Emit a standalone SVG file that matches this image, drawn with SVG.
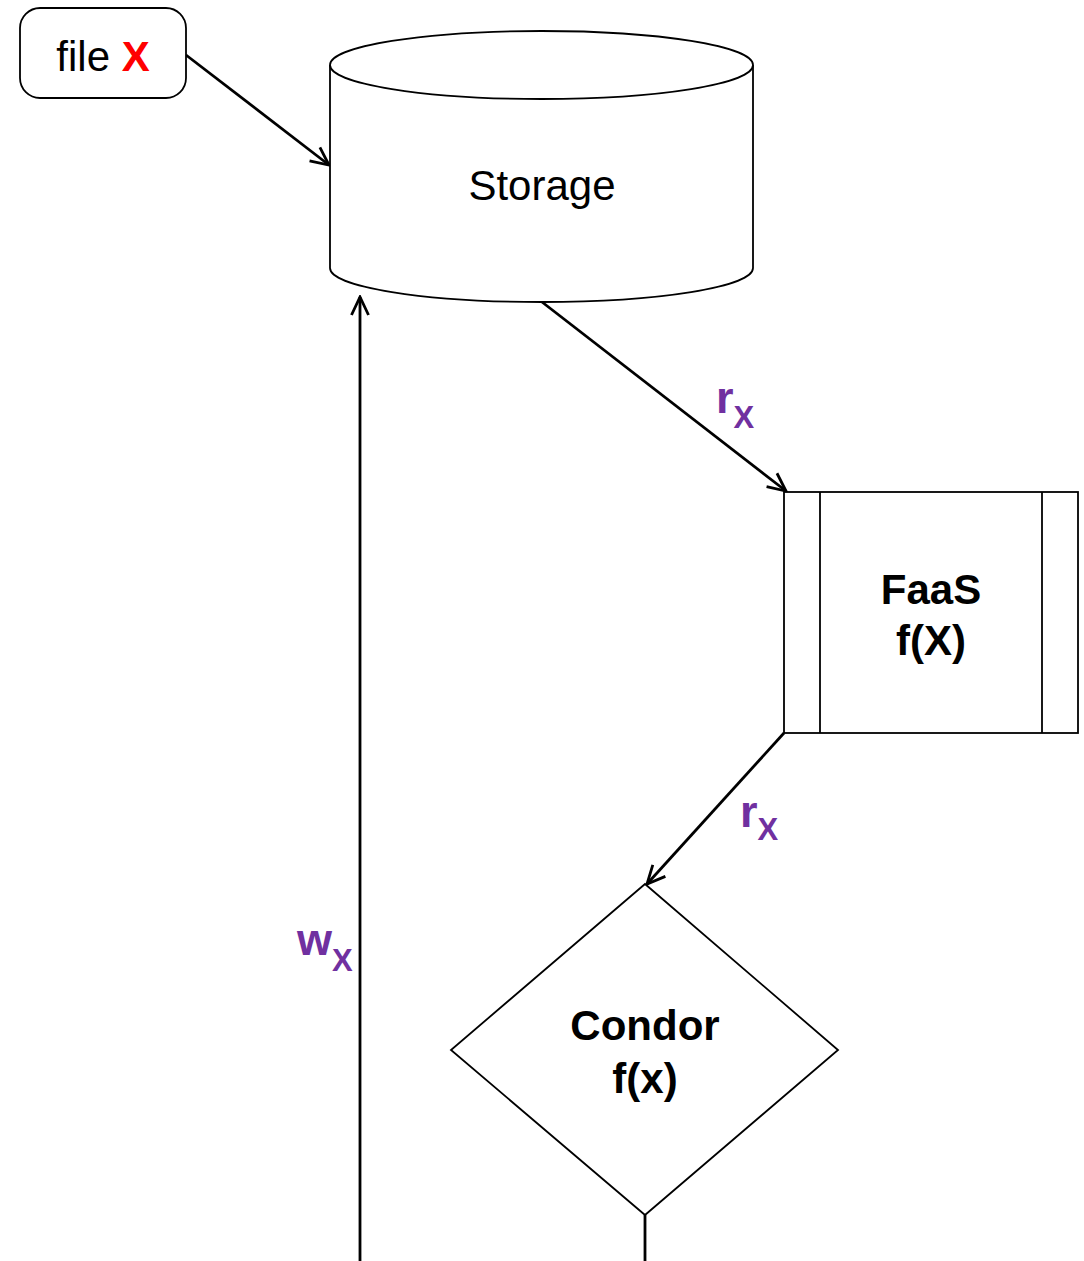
<svg xmlns="http://www.w3.org/2000/svg" width="1084" height="1261" viewBox="0 0 1084 1261">
<style>
.node{fill:#fff;stroke:#000;stroke-width:1.8}
.conn{fill:none;stroke:#000;stroke-width:2.8}
.t{font-family:"Liberation Sans",Arial,sans-serif;font-size:42px;fill:#000;text-anchor:middle}
.b{font-weight:bold}
.lbl{font-family:"Liberation Sans",Arial,sans-serif;font-weight:bold;fill:#7030A0;font-size:45px}
.sub{font-size:31px}
</style>
<defs>
<marker id="arr" viewBox="0 0 24 24" refX="22" refY="12" markerWidth="24" markerHeight="24" markerUnits="userSpaceOnUse" orient="auto">
<path d="M4,3.5 L22,12 L4,20.5" fill="none" stroke="#000" stroke-width="2.8"/>
</marker>
</defs>
<rect width="1084" height="1261" fill="#fff"/>
<g id="connectors">
<line class="conn" x1="186" y1="55" x2="329" y2="165" marker-end="url(#arr)"/>
<line class="conn" x1="542" y1="302" x2="786" y2="491" marker-end="url(#arr)"/>
<line class="conn" x1="784" y1="733" x2="647" y2="884" marker-end="url(#arr)"/>
<line class="conn" x1="645" y1="1215" x2="645" y2="1261"/>
<line class="conn" x1="360" y1="1261" x2="360" y2="297" marker-end="url(#arr)"/>
</g>
<g id="file-x">
<rect class="node" x="20" y="8" width="166" height="90" rx="20" ry="20"/>
<text class="t" x="103" y="71">file <tspan class="b" fill="#ff0000">X</tspan></text>
</g>
<g id="storage">
<path class="node" d="M330,65 L330,268 A211.5,34 0 0 0 753,268 L753,65 A211.5,34 0 0 0 330,65 Z"/>
<path class="node" fill="none" d="M330,65 A211.5,34 0 0 0 753,65"/>
<text class="t" x="542" y="200">Storage</text>
</g>
<g id="faas">
<rect class="node" x="784" y="492" width="294" height="241"/>
<line class="node" x1="820" y1="492" x2="820" y2="733"/>
<line class="node" x1="1042" y1="492" x2="1042" y2="733"/>
<text class="t b" x="931" y="604">FaaS</text>
<text class="t b" x="931" y="655">f(X)</text>
</g>
<g id="condor">
<polygon class="node" points="645,884 838,1050 645,1215 451,1050"/>
<text class="t b" x="645" y="1040">Condor</text>
<text class="t b" x="645" y="1093">f(x)</text>
</g>
<g id="labels">
<text class="lbl" x="716" y="413">r<tspan class="sub" dy="15">X</tspan></text>
<text class="lbl" x="740" y="827">r<tspan class="sub" dy="13">X</tspan></text>
<text class="lbl" x="297" y="955">w<tspan class="sub" dy="16">X</tspan></text>
</g>
</svg>
